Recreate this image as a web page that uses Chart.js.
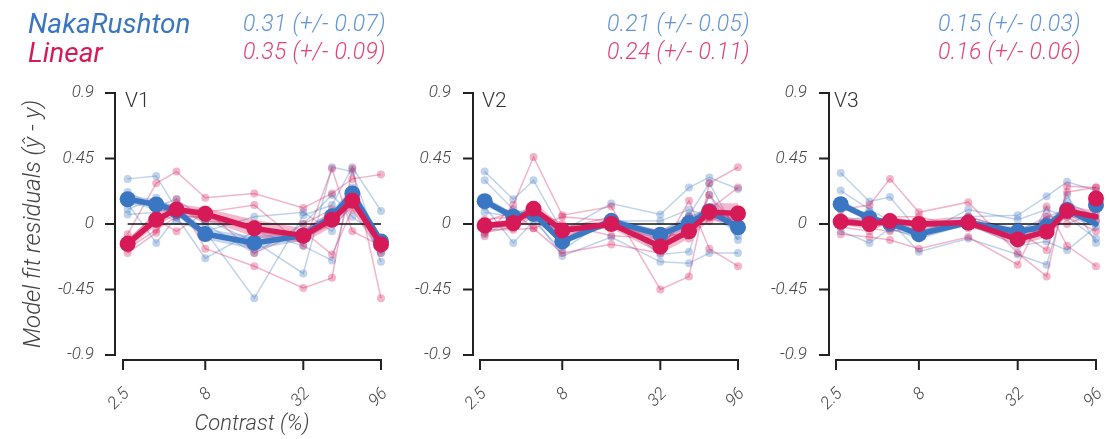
<!DOCTYPE html>
<html><head><meta charset="utf-8">
<script src="https://cdn.jsdelivr.net/npm/chart.js@4.4.1/dist/chart.umd.min.js"></script>
<style>
body{margin:0;width:1109px;height:439px;overflow:hidden;background:#fff;font-family:Roboto,'Liberation Sans',sans-serif;position:relative;}
canvas{position:absolute;top:0;}
.t{position:absolute;font-style:italic;white-space:nowrap;line-height:1;}
.leg{font-size:28px;font-weight:400;}
.st{font-size:23px;font-weight:300;letter-spacing:0.3px;}
.ttl{position:absolute;font-size:21px;font-weight:300;color:#333;line-height:1;}
</style></head><body>
<canvas id="c0" style="left:0px" width="400" height="439"></canvas>
<canvas id="c1" style="left:400px" width="350" height="439"></canvas>
<canvas id="c2" style="left:750px" width="359" height="439"></canvas>
<div id="texts"></div>
<script>
// ---------------- data ----------------
const contrast = [2.67, 4, 5.33, 8, 16, 32, 48, 64, 96];
const xTickValues = [2.5, 8, 32, 96];
const xTickLabels = ['2.5', '8', '32', '96'];
const yTickValues = [-0.9, -0.45, 0, 0.45, 0.9];
const yTickLabels = ['-0.9', '-0.45', '0', '0.45', '0.9'];
const zeroLineX = [2.67, 96];
const zeroLineY = [0, 0];
const regions = ['V1', 'V2', 'V3'];
const modelNames = ['NakaRushton', 'Linear'];
const nakaStats = ['0.31 (+/- 0.07)', '0.21 (+/- 0.05)', '0.15 (+/- 0.03)'];
const linearStats = ['0.35 (+/- 0.09)', '0.24 (+/- 0.11)', '0.16 (+/- 0.06)'];
const yAxisTitle = 'Model fit residuals (\u0177 - y)';
const xAxisTitle = 'Contrast (%)';

// V1
const nakaV1Line = [0.17, 0.134, 0.09, -0.069, -0.13, -0.08, 0.053, 0.21, -0.12];
const nakaV1Marker = [0.17, 0.134, 0.09, -0.069, -0.13, -0.08, 0.053, 0.21, -0.12];
const nakaV1Err = [0.03, 0.035, 0.03, 0.035, 0.045, 0.035, 0.04, 0.04, 0.035];
const linearV1Line = [-0.136, 0.03, 0.1, 0.07, -0.03, -0.08, 0.03, 0.16, -0.14];
const linearV1Marker = [-0.136, 0.03, 0.1, 0.07, -0.03, -0.08, 0.03, 0.16, -0.14];
const linearV1Err = [0.035, 0.04, 0.04, 0.04, 0.06, 0.05, 0.05, 0.05, 0.05];
const nakaV1Subjects = [
  [0.31, 0.33, 0.10, -0.05, -0.51, 0.06, 0.13, 0.39, 0.09],
  [0.22, 0.12, 0.17, 0.03, -0.12, -0.34, 0.39, 0.36, -0.20],
  [0.14, -0.13, 0.05, -0.235, -0.05, -0.15, -0.25, 0.25, -0.26],
  [0.10, 0.18, 0.08, -0.08, -0.15, -0.05, 0.05, 0.20, -0.15],
  [0.065, 0.08, 0.02, -0.05, 0.05, 0.08, -0.05, 0.15, -0.18],
  [0.16, 0.15, 0.12, 0.00, -0.20, 0.00, 0.20, 0.05, -0.10]
];
const linearV1Subjects = [
  [-0.07, 0.28, 0.36, 0.18, 0.21, 0.11, 0.21, 0.31, 0.34],
  [-0.20, -0.06, 0.17, -0.17, -0.29, -0.44, -0.37, 0.38, -0.51],
  [-0.14, 0.03, -0.05, 0.08, 0.13, -0.15, 0.38, -0.05, -0.15],
  [-0.10, 0.00, 0.10, 0.10, -0.20, -0.05, -0.21, 0.10, -0.20],
  [-0.17, -0.04, 0.05, 0.05, -0.05, -0.10, 0.00, 0.20, -0.10],
  [-0.12, 0.08, 0.12, 0.02, 0.00, 0.00, 0.10, 0.15, -0.17]
];
// V2
const nakaV2Line = [0.157, 0.05, 0.07, -0.12, 0.02, -0.074, 0.007, 0.088, -0.023];
const nakaV2Marker = [0.157, 0.05, 0.07, -0.12, 0.02, -0.074, 0.007, 0.088, -0.023];
const nakaV2Err = [0.03, 0.025, 0.03, 0.025, 0.025, 0.03, 0.035, 0.04, 0.035];
const linearV2Line = [-0.01, 0.007, 0.104, -0.044, 0.0, -0.155, -0.05, 0.083, 0.072];
const linearV2Marker = [-0.01, 0.007, 0.104, -0.044, 0.0, -0.155, -0.05, 0.083, 0.072];
const linearV2Err = [0.02, 0.025, 0.05, 0.025, 0.03, 0.05, 0.05, 0.06, 0.07];
const nakaV2Subjects = [
  [0.36, 0.17, 0.30, -0.05, 0.14, 0.065, 0.25, 0.32, 0.24],
  [0.30, 0.10, 0.05, -0.22, -0.09, -0.26, -0.27, -0.20, -0.20],
  [0.12, -0.13, 0.02, -0.18, 0.05, -0.21, -0.19, 0.20, -0.11],
  [0.15, 0.08, 0.10, -0.10, 0.00, -0.05, 0.05, 0.10, 0.00],
  [-0.07, 0.03, 0.06, -0.12, 0.02, 0.02, 0.10, 0.05, 0.03],
  [0.08, 0.05, 0.04, -0.05, -0.02, -0.10, 0.06, 0.28, -0.08]
];
const linearV2Subjects = [
  [-0.085, 0.13, 0.46, 0.06, 0.12, -0.45, -0.36, 0.28, 0.39],
  [-0.04, -0.04, -0.03, -0.20, -0.14, -0.20, 0.16, -0.17, -0.29],
  [0.03, 0.05, 0.10, 0.00, -0.08, -0.10, -0.05, 0.10, 0.25],
  [-0.02, -0.03, 0.05, -0.03, 0.05, -0.15, 0.05, 0.02, 0.10],
  [0.02, 0.08, -0.03, 0.05, 0.02, -0.05, -0.10, 0.20, -0.03],
  [-0.06, -0.02, 0.10, -0.08, 0.00, -0.05, 0.02, 0.05, 0.05]
];
// V3
const nakaV3Line = [0.136, 0.04, 0.005, -0.07, 0.01, -0.053, -0.014, 0.097, 0.0];
const nakaV3Marker = [0.136, 0.04, 0.005, -0.07, 0.01, -0.053, -0.014, 0.097, 0.13];
const nakaV3Err = [0.03, 0.02, 0.02, 0.025, 0.02, 0.03, 0.03, 0.04, 0.03];
const linearV3Line = [0.016, 0.0, 0.02, 0.0, 0.01, -0.106, -0.053, 0.09, 0.05];
const linearV3Marker = [0.016, 0.0, 0.02, 0.0, 0.01, -0.106, -0.053, 0.09, 0.175];
const linearV3Err = [0.02, 0.02, 0.03, 0.02, 0.02, 0.04, 0.04, 0.04, 0.04];
const nakaV3Subjects = [
  [0.35, 0.155, 0.185, -0.05, 0.05, 0.06, 0.19, 0.29, 0.23],
  [0.23, 0.10, 0.02, -0.19, -0.10, -0.21, -0.28, 0.20, -0.13],
  [-0.05, -0.13, -0.03, -0.10, 0.00, -0.15, -0.12, -0.18, -0.02],
  [0.12, 0.05, 0.00, -0.05, 0.03, -0.05, 0.05, 0.10, 0.02],
  [0.10, 0.08, -0.04, -0.08, 0.10, 0.03, 0.10, 0.05, -0.10],
  [0.05, 0.02, 0.02, 0.00, 0.05, -0.05, -0.02, 0.15, 0.05]
];
const linearV3Subjects = [
  [0.10, 0.13, 0.31, 0.08, 0.15, -0.20, -0.36, 0.26, 0.25],
  [-0.07, -0.09, -0.11, -0.17, -0.09, -0.28, 0.12, -0.15, -0.29],
  [0.02, 0.05, 0.00, 0.02, 0.05, -0.05, -0.18, 0.22, 0.25],
  [0.00, -0.03, -0.05, -0.02, 0.00, -0.10, 0.05, 0.05, -0.05],
  [0.05, 0.00, 0.05, 0.05, -0.03, -0.05, -0.05, 0.10, 0.02],
  [-0.02, -0.05, 0.02, -0.03, 0.02, -0.08, 0.02, 0.00, 0.08]
];

// ---------------- styling / layout ----------------
const BLUE = 'rgb(59,118,194)';
const RED = 'rgb(214,26,88)';
const BLUE_A = a => `rgba(59,118,194,${a})`;
const RED_A = a => `rgba(214,26,88,${a})`;
const TICK_COLOR = '#444';
const FONT = 'Roboto';

const panelData = [
  {naka:[nakaV1Line,nakaV1Marker,nakaV1Err,nakaV1Subjects], lin:[linearV1Line,linearV1Marker,linearV1Err,linearV1Subjects]},
  {naka:[nakaV2Line,nakaV2Marker,nakaV2Err,nakaV2Subjects], lin:[linearV2Line,linearV2Marker,linearV2Err,linearV2Subjects]},
  {naka:[nakaV3Line,nakaV3Marker,nakaV3Err,nakaV3Subjects], lin:[linearV3Line,linearV3Marker,linearV3Err,linearV3Subjects]}
];
const panelLayout = [
  {canvas:'c0', left:0,   yw:123, padRight:19, spineX:115, titles:true,  titleX:125, statsX:243},
  {canvas:'c1', left:400, yw:80,  padRight:12, spineX:73,  titles:false, titleX:482, statsX:607},
  {canvas:'c2', left:750, yw:86,  padRight:13, spineX:79,  titles:false, titleX:834, statsX:938}
];

const pts = ys => ys.map((y, i) => ({x: contrast[i], y}));

const spinePlugin = {
  id: 'spines',
  afterDraw(chart, args, opts) {
    const ctx = chart.ctx, xs = chart.scales.x, ys = chart.scales.y;
    const sx = opts.spineX;
    const yTop = ys.getPixelForValue(yTickValues[yTickValues.length - 1]);
    const yBot = ys.getPixelForValue(yTickValues[0]);
    ctx.save();
    ctx.strokeStyle = '#222';
    ctx.lineWidth = 2;
    ctx.beginPath();
    ctx.moveTo(sx, yTop - 1); ctx.lineTo(sx, yBot + 1);
    yTickValues.forEach(v => { const p = ys.getPixelForValue(v); ctx.moveTo(sx - 10, p); ctx.lineTo(sx + 1, p); });
    const ay = yBot + 5;
    const x0 = xs.getPixelForValue(xTickValues[0]);
    const x1 = xs.getPixelForValue(xTickValues[xTickValues.length - 1]);
    ctx.moveTo(x0 - 1, ay); ctx.lineTo(x1 + 1, ay);
    xTickValues.forEach(v => { const p = xs.getPixelForValue(v); ctx.moveTo(p, ay - 1); ctx.lineTo(p, ay + 10); });
    ctx.stroke();
    ctx.restore();
  }
};

function modelDatasets(arr, colFn, col, orderBase) {
  const [line, marker, err, subjects] = arr;
  const ds = [];
  subjects.forEach(s => ds.push({
    data: pts(s), borderColor: colFn(0.32), borderWidth: 1.5,
    pointRadius: 4, pointBackgroundColor: colFn(0.32), pointBorderWidth: 0,
    order: 20 + orderBase, clip: false
  }));
  ds.push({data: pts(line.map((v, i) => v + err[i])), borderWidth: 0, pointRadius: 0,
    fill: '+1', backgroundColor: colFn(0.3), order: 10 + orderBase, clip: false});
  ds.push({data: pts(line.map((v, i) => v - err[i])), borderWidth: 0, pointRadius: 0,
    fill: false, order: 10 + orderBase, clip: false});
  ds.push({data: pts(line), borderColor: col, borderWidth: 5.5, pointRadius: 0, fill: false,
    order: 2 + orderBase * 2, clip: false, borderJoinStyle: 'round', borderCapStyle: 'round'});
  ds.push({data: pts(marker), showLine: false, pointRadius: 8, pointBackgroundColor: col,
    pointBorderWidth: 0, order: 1 + orderBase * 2, clip: false});
  return ds;
}

panelLayout.forEach((L, p) => {
  const D = panelData[p];
  const datasets = [
    ...modelDatasets(D.naka, BLUE_A, BLUE, 1),
    ...modelDatasets(D.lin, RED_A, RED, 0),
    {data: zeroLineX.map((x, i) => ({x, y: zeroLineY[i]})), borderColor: '#111', borderWidth: 1.6,
      pointRadius: 0, fill: false, order: 8, clip: false}
  ];
  const canvas = document.getElementById(L.canvas);
  new Chart(canvas, {
    type: 'line',
    data: {datasets},
    options: {
      responsive: false, animation: false, devicePixelRatio: 1, events: [],
      layout: {padding: {left: 0, top: 93, right: L.padRight, bottom: 1}},
      plugins: {legend: {display: false}, tooltip: {enabled: false}, spines: {spineX: L.spineX}},
      scales: {
        x: {
          type: 'logarithmic', min: 2.5, max: 96,
          grid: {display: false, drawTicks: false}, border: {display: false},
          afterBuildTicks: s => { s.ticks = xTickValues.map(v => ({value: v})); },
          afterFit: s => { s.height = 83; s.paddingLeft = 0; s.paddingRight = 0; },
          ticks: {autoSkip: false, minRotation: 45, maxRotation: 45, padding: 29, labelOffset: 4,
            color: TICK_COLOR, font: {family: FONT, style: 'italic', weight: '300', size: 17},
            callback: (v) => { const k = xTickValues.indexOf(v); return k >= 0 ? xTickLabels[k] : ''; }},
          title: {display: L.titles, text: xAxisTitle, color: '#444', padding: 0,
            font: {family: FONT, style: 'italic', weight: '300', size: 22}}
        },
        y: {
          type: 'linear', min: -0.9, max: 0.9,
          grid: {display: false, drawTicks: false}, border: {display: false},
          afterBuildTicks: s => { s.ticks = yTickValues.map(v => ({value: v})); },
          afterFit: s => { s.width = L.yw; s.paddingTop = 0; s.paddingBottom = 0; },
          ticks: {padding: 29, color: TICK_COLOR,
            font: {family: FONT, style: 'italic', weight: '300', size: 17},
            callback: (v) => { const k = yTickValues.indexOf(v); return k >= 0 ? yTickLabels[k] : ''; }},
          title: {display: L.titles, text: yAxisTitle, color: '#444', padding: {top: 20, bottom: 0},
            font: {family: FONT, style: 'italic', weight: '300', size: 24}}
        }
      }
    },
    plugins: [spinePlugin]
  });
});

// ---------------- header texts ----------------
const tx = document.getElementById('texts');
function addText(cls, text, left, top, color) {
  const d = document.createElement('div');
  d.className = cls; d.textContent = text;
  d.style.left = left + 'px'; d.style.top = top + 'px'; d.style.color = color;
  tx.appendChild(d);
}
addText('t leg', modelNames[0], 28, 10, BLUE);
addText('t leg', modelNames[1], 28, 39, RED);
panelLayout.forEach((L, p) => {
  addText('t st', nakaStats[p], L.statsX, 12, 'rgb(98,148,214)');
  addText('t st', linearStats[p], L.statsX, 40, 'rgb(226,68,118)');
  addText('ttl', regions[p], L.titleX, 90, '#333');
});
</script>
</body></html>
